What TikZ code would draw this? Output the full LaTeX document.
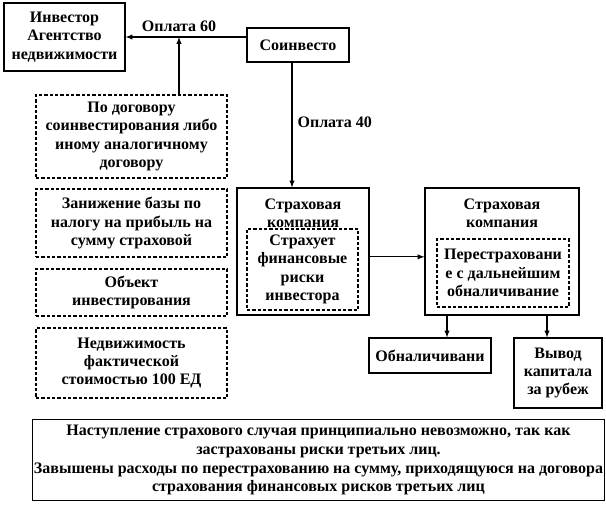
\documentclass[tikz,border=0pt]{standalone}
\usepackage{fontspec}
\setmainfont{Liberation Serif}[BoldFont={Liberation Serif Bold}]
\newfontfamily\tnr{Liberation Serif}[BoldFont={Liberation Serif Bold}]
\usetikzlibrary{arrows,shapes}
\newcommand{\px}{0.75pt}
\newcommand{\lw}{0.8pt}
\newcommand{\fnt}{\tnr\fontsize{12}{13.8}\selectfont\bfseries}
\newcommand{\nfnt}{\tnr\fontsize{12}{14.2}\selectfont\bfseries}

\begin{document}
\begin{tikzpicture}[x=\px,y=-\px]
            %\draw[help lines] (0,0) grid (606,504);
            \tikzset{box/.style = {draw, line width=\lw, align=center, inner sep=1pt, font=\fnt},
              dbox/.style = {box, dash pattern=on 2.5pt off 1.5pt},
              lbl/.style = {align=center, inner sep=1pt, font=\fnt},
              arr/.style = {-latex, line width=\lw}}
            \useasboundingbox (0,0) rectangle (606,504);
            \node[box, minimum width=121*\px, minimum height=68*\px] (inv) at (64.5,37) {Инвестор\\Агентство\\недвижимости};
            \node[box, minimum width=102*\px, minimum height=34*\px] (soinv) at (298,45) {Соинвесто};
            \node[lbl] (pay60) at (179,26) {Оплата 60};
            \node[dbox, minimum width=191*\px, minimum height=83*\px] (d1) at (131.5,136.5) {По договору\\соинвестирования либо\\иному аналогичному\\договору};
            \node[dbox, minimum width=191*\px, minimum height=68*\px] (d2) at (131.5,223) {Занижение базы по\\налогу на прибыль на\\сумму страховой};
            \node[dbox, minimum width=191*\px, minimum height=47*\px] (d3) at (131.5,292.5) {Объект\\инвестирования};
            \node[dbox, minimum width=191*\px, minimum height=70*\px] (d4) at (131.5,363) {Недвижимость\\фактической\\стоимостью 100 ЕД};
            \node[box, minimum width=132*\px, minimum height=127*\px] (ins1) at (303,251.5) {};
            \node[lbl] (t1) at (303,213) {Страховая\\компания};
            \node[dbox, minimum width=111*\px, minimum height=81*\px] (r1) at (302.5,269.5) {Страхует\\финансовые\\риски\\инвестора};
            \node[lbl, anchor=west] (pay40) at (296,122) {Оплата 40};
            \node[box, minimum width=154*\px, minimum height=127*\px] (ins2) at (502,251.5) {};
            \node[lbl] (t2) at (502,213) {Страховая\\компания};
            \node[dbox, minimum width=132*\px, minimum height=68*\px] (r2) at (503,273) {Перестраховани\\е с дальнейшим\\обналичивание};
            \node[box, minimum width=122*\px, minimum height=35*\px] (cash) at (430,355.5) {Обналичивани};
            \node[box, minimum width=88*\px, minimum height=70*\px] (out) at (558,373) {Вывод\\капитала\\за рубеж};
            \node[box, minimum width=567*\px, minimum height=81*\px, font=\nfnt] (note) at (318.5,460) {Наступление страхового случая принципиально невозможно, так как\\застрахованы риски третьих лиц.\\Завышены расходы по перестрахованию на сумму, приходящуюся на договора\\страхования финансовых рисков третьих лиц};
            % arrows
            \draw[arr] (soinv.west |- inv.east) -- (inv.east);
            \draw[arr] (d1.north -| pay60) -- (pay60 |- inv.east);
            \draw[arr] ([xshift=-4.5pt]soinv.south) -- ([xshift=-4.5pt]soinv.south |- ins1.north);
            \draw[arr] ([yshift=-4pt]ins1.east) -- ([yshift=-4pt]ins2.west);
            \draw[arr] ([xshift=-41.25pt]ins2.south) -- ([xshift=-41.25pt]ins2.south |- cash.north);
            \draw[arr] ([xshift=33.75pt]ins2.south) -- ([xshift=33.75pt]ins2.south |- out.north);
        \end{tikzpicture}
\end{document}
